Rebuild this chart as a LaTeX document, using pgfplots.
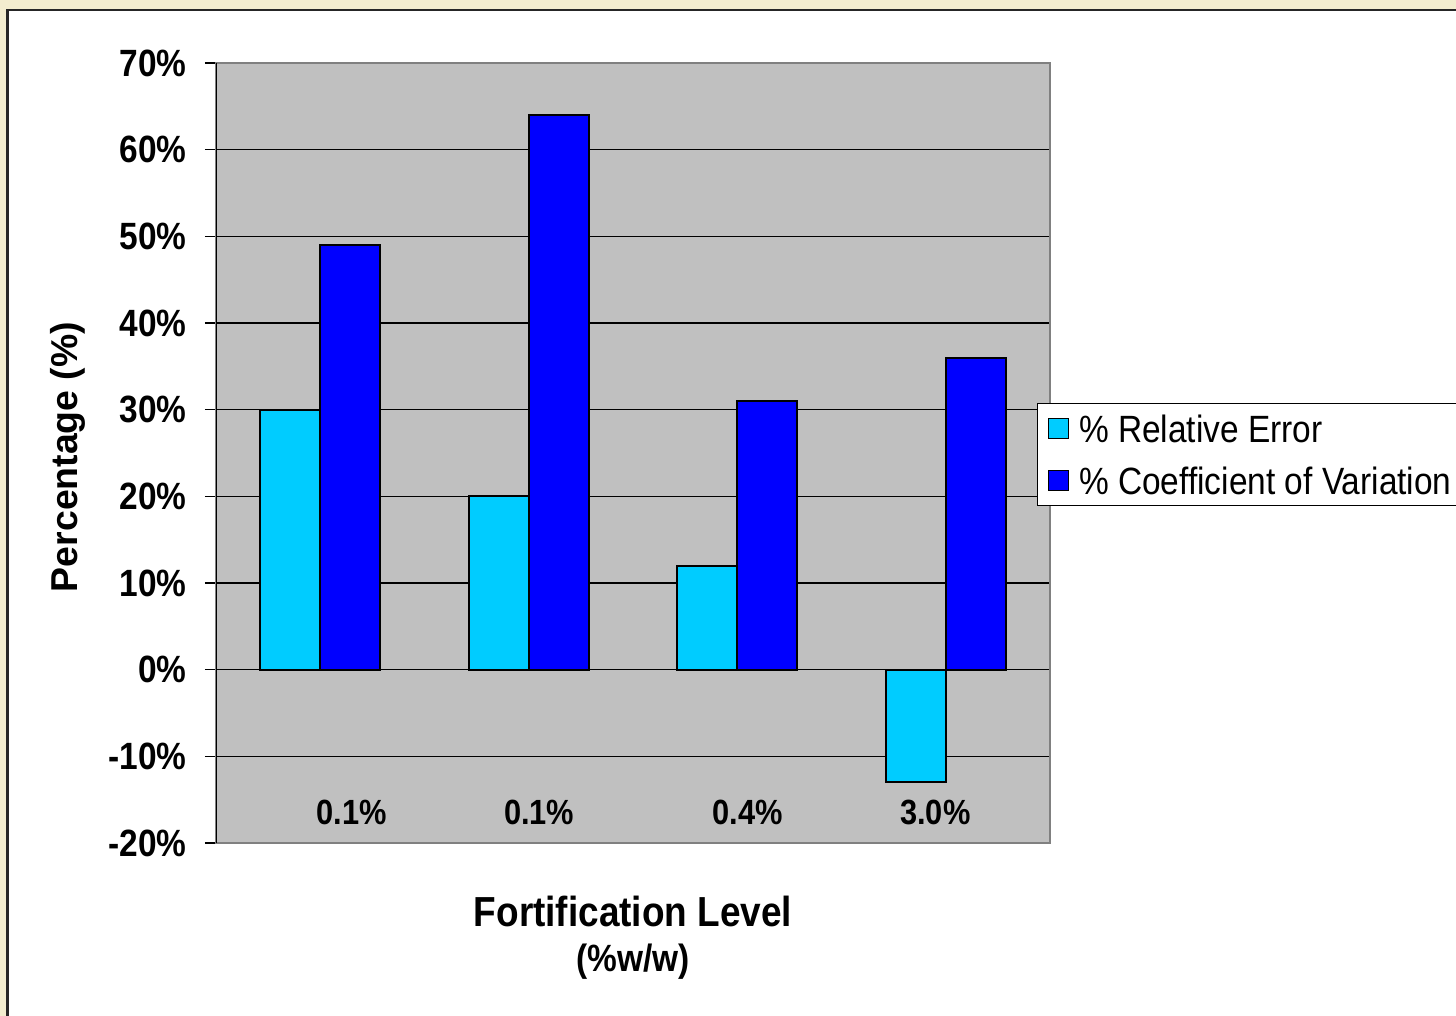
\documentclass[border=0pt]{standalone}
\usepackage{pgfplots}
\pgfplotsset{compat=1.18}
\usepackage{fontspec}
\setmainfont{Liberation Sans}[FakeStretch=0.88]
\newfontfamily\ylabfont{Liberation Sans}
\definecolor{bgyellow}{HTML}{F3EDCF}
\definecolor{plotgray}{HTML}{C0C0C0}
\definecolor{framegray}{HTML}{808080}
\definecolor{relcyan}{HTML}{00CCFF}
\definecolor{covblue}{HTML}{0000FF}
\newcommand\tickfont{\fontsize{19}{20}\selectfont\bfseries}
\begin{document}
\begin{tikzpicture}
\useasboundingbox (0,0) rectangle (728pt,508pt);
\clip (0,0) rectangle (728pt,508pt);
\fill[bgyellow] (0,0) rectangle (728pt,508pt);
\fill[white] (3.75pt,-2pt) rectangle (740pt,503pt);
\draw[black!85, line width=1.3pt] (3.75pt,-2pt) -- (3.75pt,503pt) -- (740pt,503pt);
\begin{axis}[
  at={(108pt,86.5pt)}, anchor=south west,
  scale only axis, width=417pt, height=390pt,
  xmin=-0.5, xmax=3.5, ymin=-20, ymax=70,
  ybar=0pt, bar width=30pt,
  axis background/.style={fill=plotgray},
  axis line style={draw=framegray, line width=0.9pt},
  ytick={-20,-10,0,10,20,30,40,50,60,70},
  yticklabels={-20\%,-10\%,0\%,10\%,20\%,30\%,40\%,50\%,60\%,70\%},
  ymajorgrids, grid style={black, line width=0.6pt},
  tick align=outside, major tick length=5.5pt,
  ytick pos=left,
  ytick style={black, line width=0.6pt},
  yticklabel style={font=\tickfont, inner sep=0pt, anchor=east, xshift=-9pt},
  xtick={0.15,1.05,2.05,2.95},
  xticklabels={0.1\%,0.1\%,0.4\%,3.0\%},
  xtick style={draw=none},
  xticklabel style={font=\fontsize{17.5}{18}\selectfont\bfseries, inner sep=0pt, anchor=center, yshift=21pt},
  ylabel={Percentage (\%)},
  ylabel style={font=\ylabfont\fontsize{18.7}{20}\selectfont\bfseries, inner sep=0pt, at={(axis description cs:-0.1775,0.4949)}, anchor=center},
  xlabel={Fortification Level\\{\fontsize{19}{22.5}\selectfont (\%w/w)}},
  xlabel style={font=\fontsize{21}{22.5}\selectfont\bfseries, align=center, inner sep=0pt, at={(axis description cs:0.5,-0.0672)}, anchor=north},
  legend style={at={(axis description cs:0.9844,0.5641)}, anchor=north west, draw=black, line width=0.6pt, fill=white, font=\fontsize{19}{19}\selectfont, inner xsep=5pt, inner ysep=2.5pt, row sep=6pt, column sep=4pt, nodes={inner sep=1pt, text height=16pt, text depth=2pt}},
  legend cell align=left,
  legend image code/.code={\draw[#1, line width=0.8pt] (0pt,-5pt) rectangle (10pt,5pt);},
]
\addplot[fill=relcyan, draw=black, line width=1pt] coordinates {(0,30) (1,20) (2,12) (3,-13)};
\addplot[fill=covblue, draw=black, line width=1pt] coordinates {(0,49) (1,64) (2,31) (3,36)};
\legend{\% Relative Error, \% Coefficient of Variation}
\draw[black, line width=0.9pt] (rel axis cs:0,0) -- (rel axis cs:0,1);
\end{axis}
\end{tikzpicture}
\end{document}
